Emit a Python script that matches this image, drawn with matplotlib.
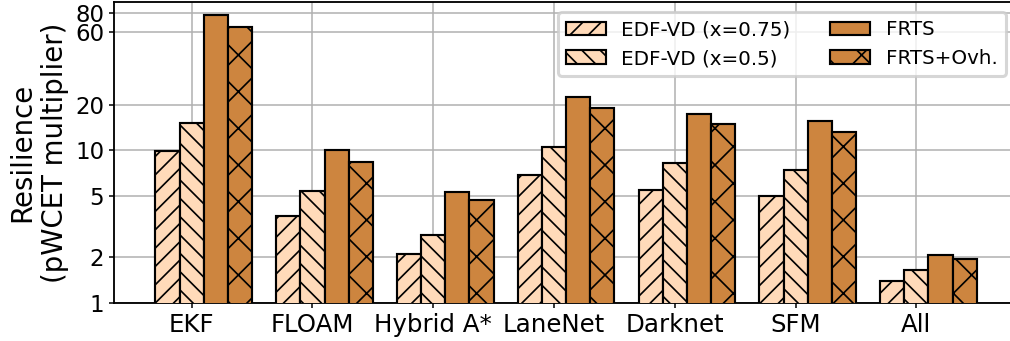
import matplotlib
matplotlib.use('Agg')
import matplotlib.pyplot as plt
import matplotlib.ticker as ticker
import numpy as np

# resilience per benchmark (pWCET multiplier)
benchmarks = ['EKF', 'FLOAM', 'Hybrid A*', 'LaneNet', 'Darknet', 'SFM', 'All']
edf_vd_075 = [9.95, 3.74, 2.11, 6.88, 5.53, 5.0, 1.40]
edf_vd_05 = [15.2, 5.4, 2.79, 10.5, 8.32, 7.45, 1.65]
frts = [77.0, 10.0, 5.37, 22.3, 17.4, 15.6, 2.07]
frts_ovh = [64.9, 8.37, 4.71, 18.9, 14.85, 13.2, 1.95]

series_labels = ['EDF-VD (x=0.75)', 'EDF-VD (x=0.5)', 'FRTS', 'FRTS+Ovh.']
yticks = [1, 2, 5, 10, 20, 60, 80]

light = '#FFDAB9'
dark = '#CD853F'

plt.rcParams['hatch.linewidth'] = 0.55
plt.rcParams['font.family'] = 'DejaVu Sans'

dpi = 220
fig = plt.figure(figsize=(1010 / dpi, 341 / dpi), dpi=dpi)
ax = fig.add_axes([0.1129, 0.1114, 1.003 - 0.1129, 0.9941 - 0.1114])

x = np.arange(len(benchmarks))
w = 0.2
series = [edf_vd_075, edf_vd_05, frts, frts_ovh]
colors = [light, light, dark, dark]
hatches = ['////', '\\\\\\\\', None, 'xx']
# tick sits under the second bar of each group
for i, (vals, c, h, lab) in enumerate(zip(series, colors, hatches, series_labels)):
    ax.bar(x + (i - 1) * w, vals, w, color=c, edgecolor='black',
           linewidth=0.7, hatch=h, label=lab, zorder=3)

ax.set_yscale('log')
ax.set_ylim(1, 94)
ax.yaxis.set_major_locator(ticker.FixedLocator(yticks))
ax.yaxis.set_major_formatter(ticker.FixedFormatter([str(t) for t in yticks]))
ax.yaxis.set_minor_locator(ticker.NullLocator())
ax.set_xlim(-0.643, 6.80)
ax.set_xticks(x)
ax.set_xticklabels(benchmarks, fontsize=8)
ax.tick_params(axis='y', labelsize=7.5)
ax.tick_params(length=1.7, width=0.5, pad=1.5)

ax.grid(True, color='#b0b0b0', linewidth=0.5, zorder=0)
ax.set_axisbelow(True)
for s in ax.spines.values():
    s.set_linewidth(0.6)

ax.set_ylabel('Resilience\n(pWCET multiplier)', fontsize=9, labelpad=2, linespacing=1.2)

ax.legend(loc='upper right', ncol=2, fontsize=6.5, bbox_to_anchor=(0.9985, 0.985),
          borderaxespad=0.3, handlelength=2.0, columnspacing=2.0,
          labelspacing=0.5, handletextpad=0.8)

fig.savefig('out.png', dpi=dpi)
